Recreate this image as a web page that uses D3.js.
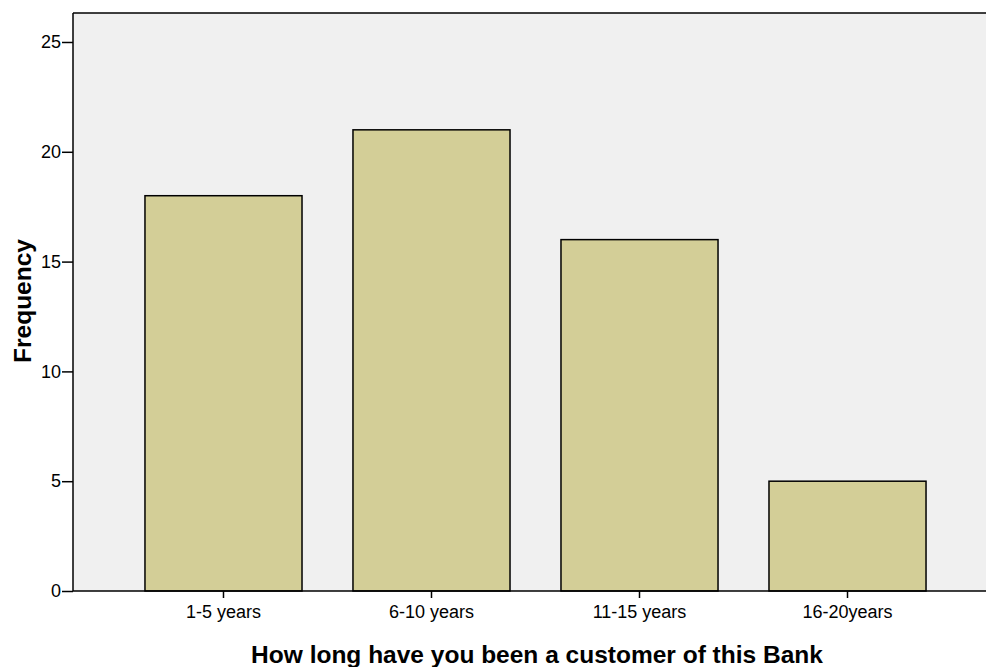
<!DOCTYPE html>
<html>
<head>
<meta charset="utf-8">
<script src="https://cdn.jsdelivr.net/npm/d3@7"></script>
<style>
  body { margin: 0; background: #fff; }
  svg { display: block; font-family: Arial, "Liberation Sans", sans-serif; }
</style>
</head>
<body>
<svg id="chart" width="986" height="667"></svg>
<script>
// data
const categories = ["1-5 years", "6-10 years", "11-15 years", "16-20years"];
const frequency = [18, 21, 16, 5];
const yTicks = [0, 5, 10, 15, 20, 25];

const width = 986;
const height = 667;
const plot = { left: 73, top: 13, right: 998, bottom: 591 };

const svg = d3.select("#chart");

const x = d3.scaleBand()
    .domain(categories)
    .range([plot.left, plot.right])
    .paddingInner(0.245)
    .paddingOuter(0.346);

const y = d3.scaleLinear()
    .domain([0, 26.32])
    .range([plot.bottom, plot.top]);

// plot background
svg.append("rect")
    .attr("x", plot.left)
    .attr("y", plot.top)
    .attr("width", plot.right - plot.left)
    .attr("height", plot.bottom - plot.top)
    .attr("fill", "#f0f0f0");

// top frame line
svg.append("line")
    .attr("x1", plot.left).attr("x2", width)
    .attr("y1", plot.top).attr("y2", plot.top)
    .attr("stroke", "#000")
    .attr("stroke-width", 1.5);

// bars
svg.append("g")
    .selectAll("rect")
    .data(categories)
    .join("rect")
    .attr("x", d => x(d))
    .attr("y", (d, i) => y(frequency[i]))
    .attr("width", x.bandwidth())
    .attr("height", (d, i) => y(0) - y(frequency[i]))
    .attr("fill", "#d3ce97")
    .attr("stroke", "#000")
    .attr("stroke-width", 1.5);

// y axis
const yAxis = svg.append("g")
    .attr("transform", `translate(${plot.left},0)`)
    .call(d3.axisLeft(y).tickValues(yTicks).tickSize(11).tickPadding(1).tickSizeOuter(0));
yAxis.select(".domain").attr("stroke-width", 1.5).attr("d", `M0,${plot.top}V${plot.bottom}`);
yAxis.selectAll(".tick line").attr("stroke-width", 1.5);
yAxis.selectAll(".tick text").attr("font-size", 18).attr("fill", "#000").attr("font-family", "Arial, 'Liberation Sans', sans-serif");

// x axis
const xAxis = svg.append("g")
    .attr("transform", `translate(0,${plot.bottom})`)
    .call(d3.axisBottom(x).tickSize(7).tickPadding(7).tickSizeOuter(0));
xAxis.select(".domain").attr("stroke-width", 1.5).attr("d", `M${plot.left},0H${width}`);
xAxis.selectAll(".tick line").attr("stroke-width", 1.5);
xAxis.selectAll(".tick text").attr("font-size", 18).attr("fill", "#000").attr("font-family", "Arial, 'Liberation Sans', sans-serif");

// axis titles
svg.append("text")
    .attr("x", 537)
    .attr("y", 663)
    .attr("text-anchor", "middle")
    .attr("font-size", 24.5)
    .attr("font-weight", "bold")
    .text("How long have you been a customer of this Bank");

svg.append("text")
    .attr("transform", "translate(31,301) rotate(-90)")
    .attr("text-anchor", "middle")
    .attr("font-size", 24.5)
    .attr("font-weight", "bold")
    .text("Frequency");
</script>
</body>
</html>
